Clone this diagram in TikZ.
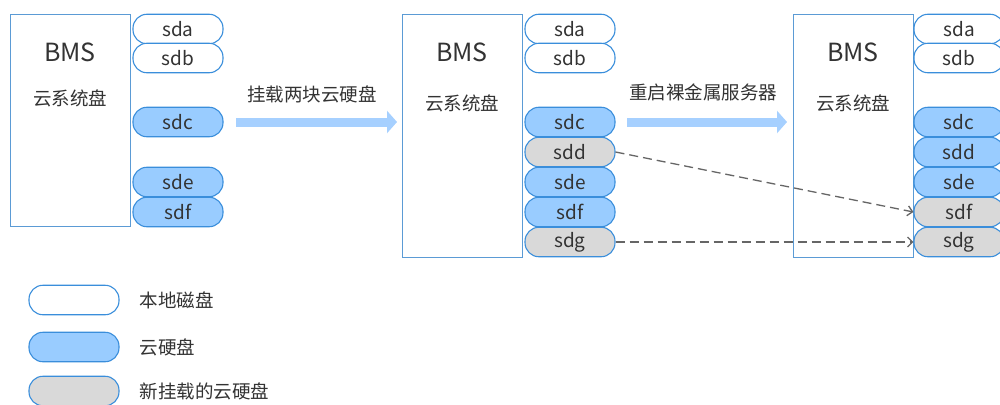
\documentclass[tikz,border=0pt]{standalone}
\usepackage{fontspec}
\setmainfont{Noto Sans CJK SC}
\usetikzlibrary{arrows.meta}
\definecolor{boxblue}{HTML}{5B9BD5}
\definecolor{diskline}{HTML}{3A8EDB}
\definecolor{cloudfill}{HTML}{99CCFF}
\definecolor{newfill}{HTML}{D9D9D9}
\definecolor{arrowblue}{HTML}{A6D0FF}
\definecolor{txt}{HTML}{333333}
\definecolor{dashgray}{HTML}{666666}
\tikzset{
  bms/.style={draw=boxblue, line width=1.2pt, anchor=north west, inner sep=0pt, minimum width=120pt},
  disk/.style={draw=diskline, line width=1.1pt, rounded corners=14pt, minimum width=90pt, minimum height=29.5pt, inner sep=0pt, text=txt, font=\fontsize{19}{19}\selectfont},
  localdisk/.style={disk, fill=white},
  clouddisk/.style={disk, fill=cloudfill},
  newdisk/.style={disk, fill=newfill},
  title/.style={text=txt, font=\fontsize{25}{25}\selectfont},
  label/.style={text=txt, font=\fontsize{18.5}{18.5}\selectfont},
  bigarrow/.style={arrowblue, line width=9pt, -{Triangle[length=10pt, width=22pt]}},
  moved/.style={dashgray, line width=1.3pt, dash pattern=on 9pt off 5pt, -{Straight Barb[length=5pt, width=10pt]}}
}
\begin{document}
\begin{tikzpicture}[x=1pt,y=-1pt]
  \useasboundingbox[fill=white] (0,0) rectangle (1000,404);
  % BMS before
  \node[bms, minimum height=212pt] (bmsA) at (10,14) {};
  \node[title] (bmsAname) at (70,52) {BMS};
  \node[label] (bmsAsys) at (70,98) {云系统盘};
  \node[localdisk] (sdaA) at (178,29) {sda};
  \node[localdisk] (sdbA) at (178,58) {sdb};
  \node[clouddisk] (sdcA) at (178,122) {sdc};
  \node[clouddisk] (sdeA) at (178,182) {sde};
  \node[clouddisk] (sdfA) at (178,212) {sdf};

  % BMS after attaching
  \node[bms, minimum height=243pt] (bmsB) at (402,14) {};
  \node[title] (bmsBname) at (462,52) {BMS};
  \node[label] (bmsBsys) at (462,103) {云系统盘};
  \node[localdisk] (sdaB) at (570,29) {sda};
  \node[localdisk] (sdbB) at (570,58) {sdb};
  \node[clouddisk] (sdcB) at (570,122) {sdc};
  \node[newdisk] (sddB) at (570,152) {sdd};
  \node[clouddisk] (sdeB) at (570,182) {sde};
  \node[clouddisk] (sdfB) at (570,212) {sdf};
  \node[newdisk] (sdgB) at (570,242) {sdg};

  % BMS after restart
  \node[bms, minimum height=243pt] (bmsC) at (793,14) {};
  \node[title] (bmsCname) at (853,52) {BMS};
  \node[label] (bmsCsys) at (853,103) {云系统盘};
  \node[localdisk] (sdaC) at (959,29) {sda};
  \node[localdisk] (sdbC) at (959,58) {sdb};
  \node[clouddisk] (sdcC) at (959,122) {sdc};
  \node[clouddisk] (sddC) at (959,152) {sdd};
  \node[clouddisk] (sdeC) at (959,182) {sde};
  \node[newdisk] (sdfC) at (959,212) {sdf};
  \node[newdisk] (sdgC) at (959,242) {sdg};

  % big arrows
  \coordinate (attachS) at (236,122);
  \coordinate (attachE) at (397,122);
  \coordinate (rebootS) at (627,122);
  \coordinate (rebootE) at (787,122);
  \draw[bigarrow] (attachS) -- (attachE);
  \draw[bigarrow] (rebootS) -- (rebootE);
  \node[label] (attachtxt) at (312,94) {挂载两块云硬盘};
  \node[label] (reboottxt) at (703,92) {重启裸金属服务器};

  % new disks move
  \draw[moved] (sddB.east) -- (sdfC.west);
  \draw[moved] (sdgB.east) -- (sdgC.west);

  % legend
  \node[localdisk] (keyLocal) at (74,300) {};
  \node[clouddisk] (keyCloud) at (74,347) {};
  \node[newdisk] (keyNew) at (74,391) {};
  \node[label, anchor=west] (keyLocaltxt) at (136,300) {本地磁盘};
  \node[label, anchor=west] (keyCloudtxt) at (136,347) {云硬盘};
  \node[label, anchor=west] (keyNewtxt) at (136,391) {新挂载的云硬盘};
\end{tikzpicture}
\end{document}
